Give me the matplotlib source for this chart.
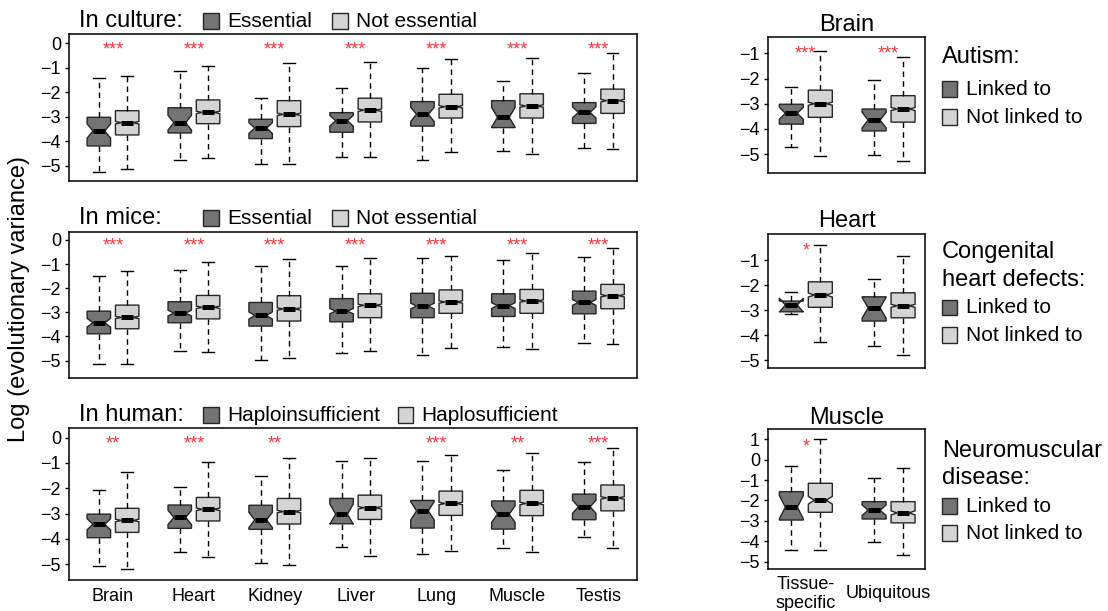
import matplotlib
matplotlib.use("Agg")
import matplotlib.pyplot as plt
from matplotlib.patches import Rectangle

plt.rcParams['font.family'] = ['Liberation Sans', 'DejaVu Sans']

W, H = 1108, 611

tissues = ["Brain", "Heart", "Kidney", "Liver", "Lung", "Muscle", "Testis"]

# each box: whisker low, Q1, median, Q3, whisker high, notch half-height
culture_ess = [
    (-5.24, -4.19, -3.58, -3.02, -1.40, 0.29),
    (-4.78, -3.66, -3.24, -2.63, -1.13, 0.30),
    (-4.93, -3.89, -3.46, -3.10, -2.25, 0.22),
    (-4.65, -3.63, -3.16, -2.83, -1.81, 0.22),
    (-4.76, -3.38, -2.90, -2.38, -0.99, 0.29),
    (-4.40, -3.44, -3.02, -2.34, -1.54, 0.40),
    (-4.29, -3.27, -2.82, -2.42, -1.22, 0.23),
]
culture_non = [
    (-5.14, -3.74, -3.24, -2.75, -1.33, 0.05),
    (-4.67, -3.28, -2.82, -2.31, -0.93, 0.05),
    (-4.94, -3.40, -2.90, -2.34, -0.79, 0.05),
    (-4.63, -3.21, -2.73, -2.24, -0.78, 0.05),
    (-4.45, -3.05, -2.59, -2.08, -0.65, 0.05),
    (-4.51, -3.05, -2.56, -2.06, -0.59, 0.05),
    (-4.33, -2.86, -2.34, -1.87, -0.38, 0.05),
]
culture_sig = ["***", "***", "***", "***", "***", "***", "***"]

mice_ess = [
    (-5.16, -3.89, -3.43, -2.95, -1.51, 0.18),
    (-4.61, -3.43, -3.03, -2.56, -1.26, 0.12),
    (-4.98, -3.57, -3.13, -2.59, -1.09, 0.15),
    (-4.69, -3.39, -2.95, -2.43, -1.08, 0.11),
    (-4.77, -3.22, -2.74, -2.21, -0.73, 0.12),
    (-4.44, -3.17, -2.72, -2.23, -0.84, 0.12),
    (-4.29, -3.06, -2.59, -2.12, -0.71, 0.12),
]
mice_non = [
    (-5.12, -3.68, -3.21, -2.70, -1.29, 0.05),
    (-4.63, -3.27, -2.79, -2.30, -0.93, 0.05),
    (-4.88, -3.36, -2.86, -2.31, -0.78, 0.05),
    (-4.61, -3.22, -2.71, -2.23, -0.75, 0.05),
    (-4.47, -3.04, -2.57, -2.07, -0.65, 0.05),
    (-4.52, -3.04, -2.53, -2.05, -0.54, 0.05),
    (-4.30, -2.85, -2.31, -1.84, -0.32, 0.05),
]
mice_sig = ["***", "***", "***", "***", "***", "***", "***"]

human_hi = [
    (-5.06, -3.95, -3.42, -3.02, -2.07, 0.22),
    (-4.51, -3.58, -3.15, -2.66, -1.94, 0.28),
    (-4.95, -3.62, -3.25, -2.67, -1.51, 0.30),
    (-4.32, -3.40, -3.02, -2.40, -0.93, 0.40),
    (-4.60, -3.57, -2.89, -2.48, -0.91, 0.36),
    (-4.37, -3.61, -3.02, -2.50, -1.29, 0.33),
    (-3.94, -3.24, -2.73, -2.23, -0.96, 0.26),
]
human_hs = [
    (-5.19, -3.74, -3.27, -2.79, -1.34, 0.05),
    (-4.72, -3.29, -2.83, -2.36, -0.95, 0.05),
    (-5.01, -3.41, -2.92, -2.40, -0.82, 0.05),
    (-4.69, -3.23, -2.77, -2.27, -0.79, 0.05),
    (-4.47, -3.07, -2.60, -2.11, -0.68, 0.05),
    (-4.51, -3.08, -2.60, -2.08, -0.61, 0.05),
    (-4.36, -2.89, -2.38, -1.87, -0.40, 0.05),
]
human_sig = ["**", "***", "**", "", "***", "**", "***"]

groups = ["Tissue-\nspecific", "Ubiquitous"]

autism_linked = [
    (-4.73, -3.81, -3.38, -3.02, -2.32, 0.24),
    (-5.04, -4.08, -3.65, -3.21, -2.07, 0.31),
]
autism_not = [
    (-5.09, -3.54, -3.00, -2.46, -0.91, 0.06),
    (-5.27, -3.73, -3.21, -2.68, -1.13, 0.06),
]
autism_sig = ["***", "***"]

chd_linked = [
    (-3.16, -3.07, -2.80, -2.64, -2.29, 0.28),
    (-4.43, -3.44, -2.91, -2.47, -1.77, 0.42),
]
chd_not = [
    (-4.27, -2.89, -2.40, -1.87, -0.39, 0.08),
    (-4.80, -3.31, -2.83, -2.31, -0.83, 0.06),
]
chd_sig = ["*", ""]

nmd_linked = [
    (-4.41, -2.96, -2.33, -1.57, -0.31, 0.57),
    (-4.02, -2.91, -2.48, -2.06, -0.88, 0.26),
]
nmd_not = [
    (-4.41, -2.58, -1.99, -1.16, 1.03, 0.19),
    (-4.67, -3.10, -2.61, -2.06, -0.42, 0.10),
]
nmd_sig = ["*", ""]

DARK = "#737373"
LIGHT = "#d4d4d4"
EDGE = "#262626"
STAR = "#f23a3a"

fig = plt.figure(figsize=(W / 100, H / 100), dpi=100)


def px_axes(x0, y0, x1, y1):
    return fig.add_axes([x0 / W, 1 - y1 / H, (x1 - x0) / W, (y1 - y0) / H])


def to_stats(boxes):
    return [dict(whislo=lo, q1=q1, med=med, q3=q3, whishi=hi,
                 cilo=med - notch, cihi=med + notch)
            for lo, q1, med, q3, hi, notch in boxes]


def draw_pairs(ax, left, right, sig, star_y):
    for boxes, shift, color in ((left, -0.175, DARK), (right, 0.175, LIGHT)):
        pos = [i + shift for i in range(len(boxes))]
        ax.bxp(to_stats(boxes), positions=pos, widths=0.29, capwidths=0.145,
               shownotches=True, showfliers=False, patch_artist=True,
               manage_ticks=False,
               boxprops=dict(facecolor=color, edgecolor=EDGE, linewidth=1.0),
               whiskerprops=dict(color="black", linewidth=1.0,
                                 linestyle=(0, (4, 3))),
               capprops=dict(color="black", linewidth=1.0),
               medianprops=dict(color="black", linewidth=3.6,
                                solid_capstyle="butt"))
    for i, s in enumerate(sig):
        if s:
            ax.annotate(s, (i, star_y), xytext=(0, -4.5),
                        textcoords="offset points", ha="center", va="center",
                        color=STAR, fontsize=13)


def style(ax, xlim, ylim, yticks):
    ax.set_xlim(*xlim)
    ax.set_ylim(*ylim)
    ax.set_yticks(yticks)
    ax.set_xticks([])
    ax.tick_params(axis="y", length=3.2, width=1.0, labelsize=13, pad=2.5)
    for sp in ax.spines.values():
        sp.set_linewidth(1.1)


def swatch(x, base, color, label):
    fig.patches.append(Rectangle((x / W, 1 - (base + 1.8) / H), 15.5 / W, 15.5 / H,
                                 transform=fig.transFigure, facecolor=color,
                                 edgecolor=EDGE, linewidth=1.0))
    fig.text((x + 24) / W, 1 - base / H, label, fontsize=15, va="baseline")


def heading(x, base, label):
    fig.text(x / W, 1 - base / H, label, fontsize=17, va="baseline")


left_ticks = [0, -1, -2, -3, -4, -5]
left_xlim = (-0.544, 6.477)
left_ylim = (-5.62, 0.38)

# left column: tissues in culture, in mice, in human
ax1 = px_axes(69, 34, 637, 181)
draw_pairs(ax1, culture_ess, culture_non, culture_sig, 0)
style(ax1, left_xlim, left_ylim, left_ticks)
heading(79, 26.7, "In culture:")
swatch(203, 26.7, DARK, "Essential")
swatch(332, 26.7, LIGHT, "Not essential")

ax2 = px_axes(69, 232, 637, 378)
draw_pairs(ax2, mice_ess, mice_non, mice_sig, 0)
style(ax2, left_xlim, (-5.72, 0.33), left_ticks)
heading(79, 224, "In mice:")
swatch(203, 224, DARK, "Essential")
swatch(332, 224, LIGHT, "Not essential")

ax3 = px_axes(69, 428, 637, 580)
draw_pairs(ax3, human_hi, human_hs, human_sig, 0)
style(ax3, left_xlim, left_ylim, left_ticks)
ax3.set_xticks(range(len(tissues)))
ax3.set_xticklabels(tissues)
ax3.tick_params(axis="x", length=0, labelsize=13, pad=6)
heading(79, 421, "In human:")
swatch(203, 421, DARK, "Haploinsufficient")
swatch(397.5, 421, LIGHT, "Haplosufficient")

fig.text(19 / W, 1 - 299 / H, "Log (evolutionary variance)", fontsize=17,
         rotation=90, ha="center", va="center")

# right column: disease-linked genes
right_xlim = (-0.457, 1.44)

axb = px_axes(768, 37, 925, 173)
draw_pairs(axb, autism_linked, autism_not, autism_sig, -0.78)
style(axb, right_xlim, (-5.75, -0.35), [-1, -2, -3, -4, -5])
axb.set_title("Brain", fontsize=17, pad=4.5)
heading(941.7, 62.7, "Autism:")
swatch(941.7, 95, DARK, "Linked to")
swatch(941.7, 122.7, LIGHT, "Not linked to")

axh = px_axes(768, 234.3, 925, 368.3)
draw_pairs(axh, chd_linked, chd_not, chd_sig, -0.37)
style(axh, right_xlim, (-5.33, 0.03), [-1, -2, -3, -4, -5])
axh.set_title("Heart", fontsize=17, pad=5)
heading(941.7, 258.3, "Congenital")
heading(941.7, 286, "heart defects:")
swatch(941.7, 313.3, DARK, "Linked to")
swatch(941.7, 341, LIGHT, "Not linked to")

axm = px_axes(768, 429, 925, 569)
draw_pairs(axm, nmd_linked, nmd_not, nmd_sig, 0.92)
style(axm, right_xlim, (-5.36, 1.5), [1, 0, -1, -2, -3, -4, -5])
axm.set_title("Muscle", fontsize=17, pad=3.5)
axm.set_xticks(range(len(groups)))
axm.set_xticklabels(groups)
axm.tick_params(axis="x", length=0, labelsize=13, pad=18)
for lbl in axm.get_xticklabels():
    lbl.set_va("center")
heading(941.7, 456.7, "Neuromuscular")
heading(941.7, 484.3, "disease:")
swatch(941.7, 511.7, DARK, "Linked to")
swatch(941.7, 539, LIGHT, "Not linked to")

fig.savefig("out.png", dpi=100)
